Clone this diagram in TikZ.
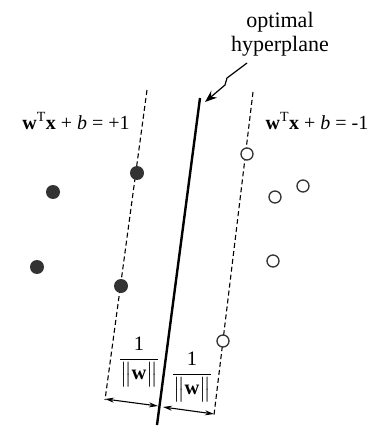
\documentclass[tikz,border=0pt]{standalone}
\usepackage{amsmath}
\usepackage{fontspec}
\setmainfont{Liberation Serif}
\usetikzlibrary{positioning,arrows.meta}
\definecolor{punto}{HTML}{333333}

\begin{document}
\begin{tikzpicture}[x=1pt,y=-1pt,
      lleno/.style={circle, fill=punto, inner sep=0pt, minimum size=14pt},
      hueco/.style={circle, draw=punto, line width=1.3pt, fill=white, inner sep=0pt, minimum size=12pt},
      margen/.style={dashed, dash pattern=on 5pt off 3pt, line width=1.1pt},
      cota/.style={{Stealth[length=9pt,width=5pt]}-{Stealth[length=9pt,width=5pt]}, line width=1.1pt},
      et/.style={font=\fontsize{20}{24}\selectfont, inner sep=0pt},
      fr/.style={font=\fontsize{20.5}{24}\selectfont, inner sep=0pt}]
    \useasboundingbox (0,0) rectangle (376,427);

    % hiperplano y margenes
    \coordinate (st) at (200,98);  \coordinate (sb) at (157,425);
    \coordinate (lt) at (147,90);  \coordinate (lb) at (105,400);
    \coordinate (rt) at (253,92);  \coordinate (rb) at (214,415);
    \draw[line width=2.4pt] (st) -- (sb);
    \draw[margen] (lt) -- (lb);
    \draw[margen] (rt) -- (rb);

    % clase +1
    \node[lleno] (p1) at (137,173) {};
    \node[lleno] (p2) at (121,286) {};
    \node[lleno] (p3) at (53,192) {};
    \node[lleno] (p4) at (37,267) {};

    % clase -1
    \node[hueco] (n1) at (247,154) {};
    \node[hueco] (n2) at (223,341) {};
    \node[hueco] (n3) at (275,197) {};
    \node[hueco] (n4) at (303,186) {};
    \node[hueco] (n5) at (273,261) {};

    % etiquetas
    \node[et] (ecp) at (76,121) {\textbf{w}\textsuperscript{T}\textbf{x} + \textit{b} = +1};
    \node[et] (ecn) at (317,121) {\textbf{w}\textsuperscript{T}\textbf{x} + \textit{b} = -1};
    \node[et, align=center, font=\fontsize{22}{24}\selectfont] (hip) at (280,34) {optimal\\hyperplane};
    \draw[line width=1.2pt, -{Stealth[length=12pt,width=9pt]}]
      (247,63) -- (227,78) -- (225,85) -- (205,102);

    % distancias
    \coordinate (a1) at (105,399); \coordinate (a2) at (158,406);
    \coordinate (b1) at (163,407); \coordinate (b2) at (214,414);
    \draw[cota] (a1) -- (a2);
    \draw[cota] (b1) -- (b2);
    \node[fr] (fi) at (139,362) {$\dfrac{\text{1}}{\big\|\textbf{w}\big\|}$};
    \node[fr] (fd) at (192,377) {$\dfrac{\text{1}}{\big\|\textbf{w}\big\|}$};
\end{tikzpicture}
\end{document}
